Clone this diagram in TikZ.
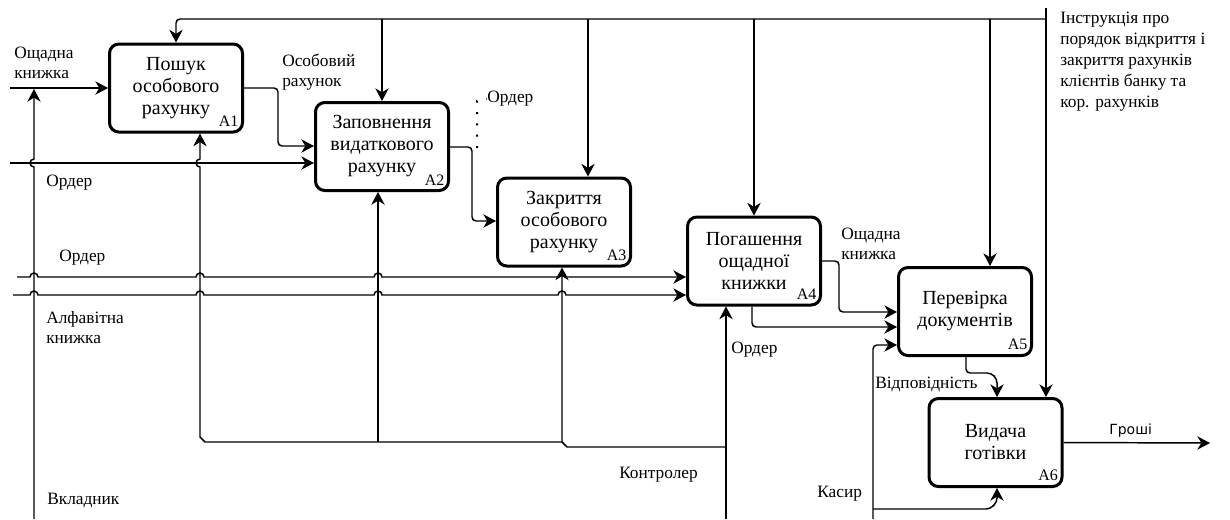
\documentclass[tikz,border=0pt]{standalone}
\usepackage{fontspec}
\setmainfont{Liberation Serif}
\newfontfamily\moneyfont{DejaVu Sans}
\usetikzlibrary{arrows.meta}
\begin{document}
\begin{tikzpicture}[x=0.75pt,y=-0.75pt,
  box/.style={draw, line width=2.25pt, rounded corners=7pt, minimum width=99.75pt,
    minimum height=66pt, inner sep=0pt, align=center, fill=white,
    font=\fontsize{15}{16.5}\selectfont},
  tag/.style={anchor=south east, inner sep=0pt, xshift=-4pt, yshift=5pt,
    font=\fontsize{12}{14}\selectfont},
  lbl/.style={anchor=west, inner sep=0pt, align=left,
    font=\fontsize{13}{15}\selectfont},
  wire/.style={line width=1.1pt, rounded corners=3pt},
  flow/.style={wire, -{Stealth[length=9.5pt, width=10pt, inset=3pt]}},
  hopline/.style={line width=1.1pt, sharp corners, -{Stealth[length=9.5pt, width=10pt, inset=3pt]}},
]
\useasboundingbox (0,0) rectangle (1230,519);

% activity boxes
\node[box] (A1) at (176,88)    {Пошук\\особового\\рахунку};
\node[box] (A2) at (382,146.5) {Заповнення\\видаткового\\рахунку};
\node[box] (A3) at (564,222)   {Закриття\\особового\\рахунку};
\node[box] (A4) at (754,261)   {Погашення\\ощадної\\книжки};
\node[box] (A5) at (965,311.5) {Перевірка\\документів};
\node[box] (A6) at (995.5,442.5) {Видача\\готівки};
\node[tag] (t1) at (A1.south east) {A1};
\node[tag] (t2) at (A2.south east) {A2};
\node[tag] (t3) at (A3.south east) {A3};
\node[tag] (t4) at (A4.south east) {A4};
\node[tag] (t5) at (A5.south east) {A5};
\node[tag] (t6) at (A6.south east) {A6};

% labels
\node[lbl] (l1)  at (14,63)   {Ощадна\\книжка};
\node[lbl] (l2)  at (282,72)  {Особовий\\рахунок};
\node[lbl] (l3)  at (487,99)  {Ордер};
\node[lbl] (l4)  at (46,183)  {Ордер};
\node[lbl] (l5)  at (59,258)  {Ордер};
\node[lbl] (l6)  at (46,328)  {Алфавітна\\книжка};
\node[lbl] (l7)  at (47,500)  {Вкладник};
\node[lbl] (l8)  at (619,475) {Контролер};
\node[lbl] (l9)  at (731,350) {Ордер};
\node[lbl] (l10) at (841,244) {Ощадна\\книжка};
\node[lbl] (l11) at (875,384) {Відповідність};
\node[lbl] (l12) at (817,494) {Касир};
\node[lbl, font=\moneyfont\fontsize{10.5}{12}\selectfont] (l13) at (1109,431) {Гроші};
\node[lbl, font=\fontsize{13}{15.75}\selectfont] (l14) at (1060,62)
  {Інструкція про\\порядок відкриття і\\закриття рахунків\\клієнтів банку та\\кор. рахунків};

% control: instruction, branching along the top
\coordinate (ic) at (1046,8);
\coordinate (tj) at (1046,19);
\coordinate (d3) at (588,19);
\coordinate (d5) at (990,19);
\draw[flow] (ic) -- (ic |- A6.north);
\draw[flow] (tj) -- (tj -| A1.north) -- (A1.north);
\draw[flow] (tj -| A2.north) -- (A2.north);
\draw[flow] (d3) -- (d3 |- A3.north);
\draw[flow] (tj -| A4.north) -- (A4.north);
\draw[flow] (d5) -- (d5 |- A5.north);

% inputs from the left
\coordinate (s1) at (10,88);
\coordinate (s2) at (10,163);
\coordinate (s3) at (17,277);
\coordinate (s4) at (13,295);
\draw[flow] (s1) -- (A1.west);
\draw[flow] (s2) -- (s2 -| A2.west);
\draw[hopline] (s3) -- (30,277) arc[start angle=180,end angle=0,radius=3pt]
  -- (196,277) arc[start angle=180,end angle=0,radius=3pt]
  -- (374,277) arc[start angle=180,end angle=0,radius=3pt]
  -- (558,277) arc[start angle=180,end angle=0,radius=3pt]
  -- (s3 -| A4.west);
\draw[hopline] (s4) -- (30,295) arc[start angle=180,end angle=0,radius=3pt]
  -- (196,295) arc[start angle=180,end angle=0,radius=3pt]
  -- (374,295) arc[start angle=180,end angle=0,radius=3pt]
  -- (558,295) arc[start angle=180,end angle=0,radius=3pt]
  -- (s4 -| A4.west);

% depositor mechanism
\coordinate (v0) at (34,519);
\coordinate (vj) at (34,89);
\draw[hopline] (v0) -- (34,167) arc[start angle=270,end angle=90,radius=3pt] -- (vj);

% flows between activities
\draw[flow] (A1.east) -- (278,88) -- (278,146) -- (A2.west |- 0,146);
\coordinate (o2) at (472,147);
\draw[flow] (A2.east |- o2) -- (o2) -- (472,221) -- (A3.west |- 0,221);
\draw[line width=1.5pt, dash pattern=on 1.5pt off 7pt] (477,148) -- (477,101) -- (l3.west);
\draw[flow] (A4.east) -- (839,261) -- (839,312) -- (A5.west |- 0,312);
\draw[flow] (A4.south -| 752,0) -- (752,327) -- (A5.west |- 0,327);
\draw[flow] (A5.south -| 966,0) -- (966,373) -- (991,373) -- (997,379) -- (A6.north -| 997,0);
\coordinate (g) at (1210,443);
\draw[flow] (A6.east) -- (g);

% controller mechanism
\coordinate (k0) at (726,519);
\coordinate (kj) at (726,447);
\coordinate (k3) at (562,442);
\coordinate (k2) at (378,442);
\coordinate (k1) at (200,442);
\draw[flow] (k0) -- (k0 |- A4.south);
\draw[hopline] (kj) -- (567,447) -- (k3) -- (k3 |- A3.south);
\draw[flow] (k2) -- (k2 |- A2.south);
\draw[hopline] (k3) -- (205,442) -- (200,437) -- (200,167)
  arc[start angle=270,end angle=90,radius=3pt] -- (k1 |- A1.south);

% cashier mechanism
\coordinate (c0) at (873,519);
\coordinate (cj) at (873,509);
\draw[flow] (c0) -- (873,345) -- (A5.west |- 0,345);
\draw[flow] (cj) -- (990,509) -- (997,502) -- (A6.south -| 997,0);
\end{tikzpicture}
\end{document}
